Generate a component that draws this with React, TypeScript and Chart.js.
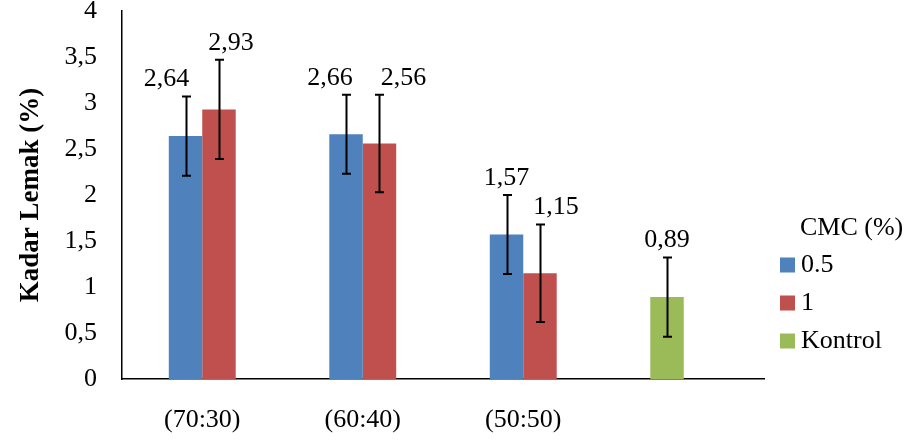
import React, { useEffect, useRef } from "react";
import { Chart, registerables } from "chart.js";

Chart.register(...registerables);

const categories = ["(70:30)", "(60:40)", "(50:50)", ""];
const cmc05 = [2.64, 2.66, 1.57, null];
const cmc1 = [2.93, 2.56, 1.15, null];
const kontrol = [null, null, null, 0.89];
const err05 = [0.43, 0.43, 0.43, null];
const err1 = [0.54, 0.53, 0.53, null];
const errKontrol = [null, null, null, 0.43];
const yTicks = [0, 0.5, 1, 1.5, 2, 2.5, 3, 3.5, 4];

const seriesLabels = ["0.5", "1", "Kontrol"];
const legendTitle = "CMC (%)";
const yTitle = "Kadar Lemak (%)";

const COLORS = ["#4F81BD", "#C0504D", "#9BBB59"];
const FONT = "'Liberation Serif', 'Times New Roman', serif";
const FS = 26;
// horizontal nudges of value labels (style only), per dataset
const LABEL_NUDGE = [
  [-19, -16, 0, 0],
  [12, 24, 16, 0],
  [0, 0, 0, 0],
];

const fmt = (v: number) => String(v).replace(".", ",");

const errorBarPlugin = {
  id: "errorBars",
  afterDatasetsDraw(chart: any) {
    const ctx = chart.ctx;
    const y = chart.scales.y;
    const errs = [err05, err1, errKontrol];
    ctx.save();
    chart.data.datasets.forEach((ds: any, i: number) => {
      const meta = chart.getDatasetMeta(i);
      ds.data.forEach((v: number | null, j: number) => {
        const e = errs[i][j];
        if (v == null || e == null) return;
        const el = meta.data[j];
        const x = Math.round(el.x) + 0.5;
        const yt = y.getPixelForValue(v + e);
        const yb = y.getPixelForValue(v - e);
        ctx.strokeStyle = "#000";
        ctx.lineWidth = 2;
        ctx.beginPath();
        ctx.moveTo(x, yt);
        ctx.lineTo(x, yb);
        ctx.moveTo(x - 4.5, yt);
        ctx.lineTo(x + 4.5, yt);
        ctx.moveTo(x - 4.5, yb);
        ctx.lineTo(x + 4.5, yb);
        ctx.stroke();
        // value label
        ctx.fillStyle = "#000";
        ctx.font = `${FS}px ${FONT}`;
        ctx.textAlign = "center";
        ctx.textBaseline = "middle";
        ctx.fillText(fmt(v), el.x + LABEL_NUDGE[i][j], yt - 17);
      });
    });
    ctx.restore();
  },
};

const legendPlugin = {
  id: "customLegend",
  afterDraw(chart: any) {
    const ctx = chart.ctx;
    const area = chart.chartArea;
    const boxX = area.right + 16;
    const textX = area.right + 37;
    ctx.save();
    ctx.font = `${FS}px ${FONT}`;
    ctx.fillStyle = "#000";
    ctx.textAlign = "left";
    ctx.textBaseline = "middle";
    ctx.fillText(legendTitle, textX - 1, area.bottom - 151);
    chart.data.datasets.forEach((ds: any, i: number) => {
      const cy = area.bottom - 114 + i * 38;
      ctx.fillStyle = ds.backgroundColor;
      ctx.fillRect(boxX, cy - 7.5, 15, 15);
      ctx.fillStyle = "#000";
      ctx.fillText(ds.label, textX, cy);
    });
    ctx.restore();
  },
};

export default function App() {
  const ref = useRef<HTMLCanvasElement>(null);
  useEffect(() => {
    if (!ref.current) return;
    const chart = new Chart(ref.current, {
      type: "bar",
      data: {
        labels: categories,
        datasets: [
          { label: seriesLabels[0], data: cmc05, backgroundColor: COLORS[0], stack: "a" },
          { label: seriesLabels[1], data: cmc1, backgroundColor: COLORS[1], stack: "b" },
          { label: seriesLabels[2], data: kontrol, backgroundColor: COLORS[2], stack: "a" },
        ],
      },
      options: {
        animation: false,
        responsive: false,
        maintainAspectRatio: false,
        datasets: { bar: { categoryPercentage: 0.417, barPercentage: 1.0 } },
        layout: { padding: { left: 0, top: 11, right: 158, bottom: 13 } },
        plugins: { legend: { display: false }, tooltip: { enabled: false } },
        scales: {
          x: {
            afterFit: (s: any) => {
              s.height = 56;
              s.paddingLeft = 0;
              s.paddingRight = 0;
            },
            grid: { display: false, drawTicks: false },
            border: { display: true, color: "#000", width: 1.5 },
            ticks: { color: "#000", padding: 26, font: { family: FONT, size: FS } },
          },
          y: {
            stacked: false,
            min: 0,
            max: 4,
            afterFit: (s: any) => {
              s.width = 122;
              s.paddingTop = 0;
              s.paddingBottom = 0;
            },
            afterBuildTicks: (s: any) => {
              s.ticks = yTicks.map((v) => ({ value: v }));
            },
            grid: { display: false, drawTicks: false },
            border: { display: true, color: "#000", width: 1.5 },
            ticks: {
              color: "#000",
              padding: 25,
              font: { family: FONT, size: FS, lineHeight: 0.88 },
              callback: (v: any) => fmt(Number(v)),
            },
            title: {
              display: true,
              text: yTitle,
              color: "#000",
              padding: { top: 15, bottom: 0 },
              font: { family: FONT, size: 27, weight: "bold" },
            },
          },
        },
      },
      plugins: [errorBarPlugin, legendPlugin],
    });
    return () => chart.destroy();
  }, []);
  return (
    <div style={{ position: "absolute", left: 0, top: 0, width: 922, height: 448, background: "#fff" }}>
      <canvas ref={ref} width={922} height={448} style={{ display: "block" }} />
    </div>
  );
}
